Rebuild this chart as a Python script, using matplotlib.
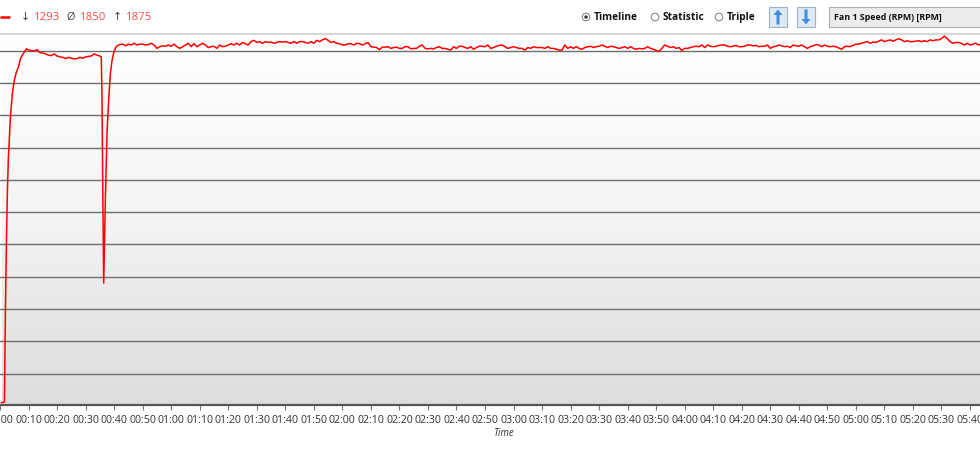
import numpy as np
import matplotlib.pyplot as plt
from matplotlib.colors import LinearSegmentedColormap
from matplotlib.patches import Rectangle, Circle, Polygon

# Fan 1 speed log (seconds -> RPM)
# start-up, first plateau and the short dip
start_t = [0.5, 1.55, 1.9, 2.25, 2.6, 2.95, 3.65, 4.35, 5.05, 5.75, 6.45, 7.25, 8.1, 9.25,
           10, 11, 12, 13, 14, 15, 16, 17, 18, 19, 20, 21, 22, 23, 24, 25, 26, 27, 28, 29,
           30, 31, 32, 33, 34, 35,
           35.5, 35.75, 36.05, 36.35, 36.95, 37.55, 38.15, 38.7, 39.3, 39.9, 40.5]
start_rpm = [1011, 1013, 1223, 1387, 1512, 1590, 1684, 1741, 1772, 1790, 1802, 1823, 1833, 1845,
             1842, 1841, 1840, 1843, 1836, 1835, 1833, 1830, 1829, 1833, 1828, 1826, 1825, 1822,
             1825, 1823, 1821, 1822, 1825, 1823, 1826, 1827, 1828, 1833, 1830, 1828,
             1826, 1731, 1496, 1293, 1496, 1654, 1731, 1788, 1819, 1837, 1847]

# steady part, one sample per second from 00:41
steady_t = np.arange(41, 345)
steady_rpm = [
    1852, 1855, 1856, 1852, 1856, 1854, 1858, 1854, 1856, 1856,
    1854, 1855, 1858, 1854, 1846, 1850, 1852, 1851, 1854, 1851,
    1856, 1850, 1846, 1850, 1854, 1858, 1850, 1857, 1850, 1854,
    1858, 1854, 1848, 1850, 1851, 1846, 1854, 1850, 1851, 1854,
    1857, 1854, 1858, 1854, 1860, 1857, 1854, 1862, 1865, 1860,
    1862, 1858, 1862, 1860, 1861, 1858, 1860, 1862, 1861, 1862,
    1860, 1858, 1862, 1858, 1862, 1862, 1860, 1858, 1862, 1858,
    1865, 1862, 1866, 1869, 1865, 1860, 1862, 1858, 1857, 1854,
    1854, 1857, 1857, 1854, 1858, 1857, 1854, 1857, 1860, 1850,
    1849, 1848, 1843, 1849, 1849, 1850, 1846, 1848, 1849, 1846,
    1846, 1850, 1850, 1845, 1846, 1846, 1851, 1854, 1846, 1845,
    1846, 1845, 1848, 1850, 1846, 1846, 1844, 1842, 1850, 1846,
    1851, 1851, 1848, 1846, 1850, 1844, 1848, 1851, 1851, 1850,
    1854, 1846, 1848, 1851, 1853, 1854, 1850, 1846, 1848, 1850,
    1848, 1846, 1846, 1842, 1848, 1846, 1850, 1848, 1848, 1848,
    1846, 1850, 1846, 1846, 1844, 1842, 1842, 1854, 1846, 1850,
    1846, 1850, 1846, 1844, 1848, 1850, 1851, 1848, 1850, 1851,
    1854, 1851, 1848, 1851, 1850, 1848, 1846, 1848, 1850, 1846,
    1850, 1846, 1844, 1846, 1845, 1846, 1850, 1846, 1844, 1841,
    1839, 1846, 1854, 1851, 1848, 1850, 1846, 1848, 1841, 1846,
    1846, 1848, 1850, 1851, 1850, 1854, 1848, 1854, 1851, 1850,
    1851, 1853, 1854, 1854, 1851, 1850, 1851, 1853, 1850, 1850,
    1851, 1854, 1854, 1852, 1853, 1850, 1851, 1851, 1854, 1846,
    1850, 1851, 1854, 1852, 1850, 1851, 1848, 1854, 1852, 1851,
    1854, 1850, 1846, 1850, 1852, 1855, 1854, 1850, 1854, 1851,
    1850, 1851, 1850, 1847, 1844, 1850, 1851, 1850, 1853, 1856,
    1856, 1858, 1860, 1862, 1858, 1861, 1860, 1863, 1866, 1862,
    1864, 1866, 1863, 1866, 1869, 1866, 1862, 1864, 1862, 1862,
    1863, 1864, 1862, 1864, 1862, 1866, 1864, 1866, 1866, 1869,
    1875, 1869, 1862, 1858, 1860, 1860, 1858, 1854, 1858, 1854,
    1856, 1858, 1854, 1856,
]

stat_min, stat_avg, stat_max = 1293, 1850, 1875
tick_seconds = list(range(0, 350, 10))
tick_labels = [f"{s // 60:02d}:{s % 60:02d}" for s in tick_seconds]
grid_rpm = list(range(1080, 1841, 76))
sensor_name = "Fan 1 Speed (RPM) [RPM]"
view_modes = ["Timeline", "Statistic", "Triple"]

RED = "#ff0000"
FONT = ["Open Sans", "DejaVu Sans"]
plt.rcParams["font.family"] = FONT

fig = plt.figure(figsize=(9.8, 4.5), dpi=100)
fig.patch.set_facecolor("white")

# chart area (spans the whole width, left end cut like the original window)
ax = fig.add_axes([0, 45 / 450, 1, 371 / 450])
xlim, ylim = (0.87, 343.5), (1005.8, 1879.9)
bg = LinearSegmentedColormap.from_list("bg", ["#ffffff", "#f4f4f4", "#dcdcdc"])
ax.imshow(np.linspace(0, 1, 256).reshape(-1, 1), cmap=bg, aspect="auto",
          extent=[*xlim, *ylim], origin="upper", zorder=0)
for g in grid_rpm:
    ax.axhline(g, color="#6e6e6e", lw=1.0, zorder=1)
ax.plot(start_t + list(steady_t), start_rpm + steady_rpm, color=RED, lw=1.1, zorder=3)
ax.set_xlim(*xlim); ax.set_ylim(*ylim)
ax.set_yticks([])
ax.set_xticks(tick_seconds, tick_labels)
ax.tick_params(axis="x", length=3.5, width=0.8, color="#777777", pad=3.5,
               labelsize=7.7, labelcolor="#333333")
for side in ("left", "right"):
    ax.spines[side].set_visible(False)
ax.spines["bottom"].set_color("#555555"); ax.spines["bottom"].set_linewidth(1.6)
ax.spines["top"].set_color("#cfcfcf"); ax.spines["top"].set_linewidth(1.2)
fig.text(503 / 980, 1 - 434 / 450, "Time", ha="center", va="center",
         style="italic", fontsize=7, color="#333333")

# header strip drawn in pixel coordinates
hdr = fig.add_axes([0, 0, 1, 1])
hdr.set_xlim(0, 980); hdr.set_ylim(450, 0)
hdr.axis("off"); hdr.patch.set_alpha(0)

hdr.plot([0, 10], [17, 17], color=RED, lw=1.8, solid_capstyle="butt")
for x_sym, sym, x_val, val in [(21, "↓", 34, stat_min), (66, "Ø", 80, stat_avg),
                               (113, "↑", 126, stat_max)]:
    hdr.text(x_sym, 17.5, sym, color="#444444", fontsize=7.8, va="center")
    hdr.text(x_val, 17.5, str(val), color="#ff4b4b", fontsize=8.2, va="center")

for (cx, tx), name in zip([(586, 594), (655, 663), (719, 727)], view_modes):
    hdr.add_patch(Circle((cx, 17), 3.8, fc="white", ec="#8a8a8a", lw=0.8))
    if name == "Timeline":
        hdr.add_patch(Circle((cx, 17), 1.7, fc="#333333", ec="none"))
    hdr.text(tx, 17.5, name, fontsize=7.3, fontweight="bold", va="center", color="#111111")

for x0, up in [(769, True), (797, False)]:
    hdr.add_patch(Rectangle((x0, 7), 18, 20, fc="#dfe8f3", ec="#9fb2c6", lw=0.8))
    cx = x0 + 9
    if up:
        pts = [(cx, 9.5), (cx + 4.5, 15), (cx + 1.5, 15), (cx + 1.5, 24.5),
               (cx - 1.5, 24.5), (cx - 1.5, 15), (cx - 4.5, 15)]
    else:
        pts = [(cx, 24.5), (cx + 4.5, 19), (cx + 1.5, 19), (cx + 1.5, 9.5),
               (cx - 1.5, 9.5), (cx - 1.5, 19), (cx - 4.5, 19)]
    hdr.add_patch(Polygon(pts, closed=True, fc="#3f8fe0", ec="none"))

hdr.add_patch(Rectangle((829, 7), 160, 20, fc="#ececec", ec="#acacac", lw=0.8))
hdr.text(834, 17.5, sensor_name, fontsize=6.4, fontweight="bold", va="center", color="#111111")

fig.savefig("out.png", dpi=100)
